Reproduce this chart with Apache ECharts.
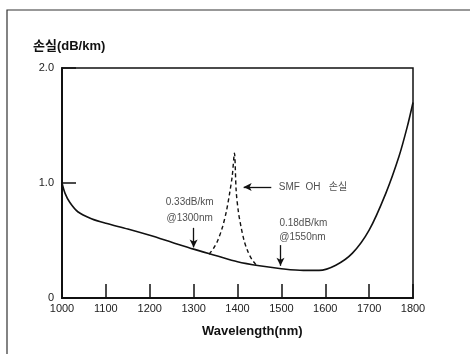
<!DOCTYPE html>
<html><head><meta charset="utf-8">
<script src="https://cdn.jsdelivr.net/npm/echarts@6/dist/echarts.min.js"></script>
<style>html,body{margin:0;padding:0;background:#fff}#c{width:470px;height:354px}</style>
</head><body><div id="c"></div>
<script>
// Solid loss curve (wavelength nm, loss dB/km)
const solidWl   = [1000, 1007, 1018, 1036, 1067, 1100, 1150, 1200, 1250, 1300, 1350, 1400, 1450, 1500, 1550, 1586, 1624, 1662, 1700, 1738, 1768, 1787, 1800];
const solidLoss = [1.00, 0.91, 0.83, 0.75, 0.69, 0.65, 0.60, 0.545, 0.485, 0.425, 0.37, 0.315, 0.28, 0.255, 0.24, 0.24, 0.285, 0.39, 0.59, 0.91, 1.23, 1.49, 1.70];
// OH absorption peak (dashed)
const ohWl   = [1335, 1345, 1355, 1366, 1375, 1382, 1388, 1393, 1397, 1402, 1408, 1415, 1423, 1432, 1442];
const ohLoss = [0.38, 0.43, 0.50, 0.62, 0.76, 0.91, 1.06, 1.26, 0.93, 0.75, 0.62, 0.50, 0.41, 0.34, 0.29];
// Axis ticks
const xTicks = [1000, 1100, 1200, 1300, 1400, 1500, 1600, 1700, 1800];
const yTicks = [0, 1, 2];
// Annotations
const annoText = ['0.33dB/km', '@1300nm', '0.18dB/km', '@1550nm', 'SMF  OH   손실'];
const annoX    = [1291, 1291, 1550, 1548, 1494];
const annoY    = [0.83, 0.69, 0.65, 0.53, 0.965];
const arrows   = [[[1300, 0.61], [1300, 0.44]], [[1498, 0.46], [1498, 0.28]], [[1477, 0.965], [1414, 0.965]]];

const chart = echarts.init(document.getElementById('c'), null, {renderer: 'canvas'});
const FONT = 'Liberation Sans, Arial, Noto Sans CJK KR, sans-serif';
const INK = '#111';

const annoData = annoText.map((t, i) => ({
  value: [annoX[i], annoY[i]],
  label: {
    show: true, formatter: t, position: 'inside',
    align: i === 4 ? 'left' : 'center', verticalAlign: 'middle',
    color: '#222', fontSize: 10, fontFamily: FONT
  }
}));

chart.setOption({
  animation: false,
  backgroundColor: '#fff',
  grid: {left: 62, right: 57, top: 68, bottom: 56, show: true, borderColor: INK, borderWidth: 1.5, backgroundColor: 'transparent'},
  xAxis: {
    type: 'value', min: xTicks[0], max: xTicks[xTicks.length - 1], interval: 100,
    axisLine: {show: true, lineStyle: {color: INK, width: 2}},
    axisTick: {show: true, inside: true, length: 14, lineStyle: {color: INK, width: 1.5}},
    axisLabel: {color: '#222', fontSize: 11, fontFamily: FONT, margin: 5, formatter: v => String(v)},
    splitLine: {show: false}
  },
  yAxis: {
    type: 'value', min: yTicks[0], max: yTicks[yTicks.length - 1], interval: 1,
    axisLine: {show: true, lineStyle: {color: INK, width: 2}},
    axisTick: {show: true, inside: true, length: 14, lineStyle: {color: INK, width: 1.5}},
    axisLabel: {color: '#222', fontSize: 11, fontFamily: FONT, margin: 8,
      formatter: v => v === 0 ? '0' : v.toFixed(1)},
    splitLine: {show: false}
  },
  series: [
    {
      type: 'line', data: solidWl.map((x, i) => [x, solidLoss[i]]),
      smooth: 0.3, showSymbol: false, symbol: 'none',
      lineStyle: {color: INK, width: 1.6},
      markLine: {
        silent: true, symbol: ['none', 'arrow'], symbolSize: [6, 8],
        label: {show: false},
        lineStyle: {color: INK, width: 1.3, type: 'solid'},
        data: arrows.map(a => [{coord: a[0]}, {coord: a[1]}])
      }
    },
    {
      type: 'line', data: ohWl.map((x, i) => [x, ohLoss[i]]),
      smooth: 0.3, showSymbol: false, symbol: 'none',
      lineStyle: {color: INK, width: 1.4, type: [4, 3]}
    },
    {
      type: 'scatter', data: annoData, symbolSize: 0, silent: true
    }
  ],
  graphic: [
    {type: 'polyline', shape: {points: [[7, 354], [7, 10], [470, 10]]}, style: {stroke: '#333', lineWidth: 1.2, fill: null}},
    {type: 'text', left: 33, top: 40, style: {text: '손실(dB/km)', font: 'bold 13px ' + FONT, fill: '#111'}},
    {type: 'text', left: 202, top: 325, style: {text: 'Wavelength(nm)', font: 'bold 13px ' + FONT, fill: '#111'}}
  ]
});
</script></body></html>
